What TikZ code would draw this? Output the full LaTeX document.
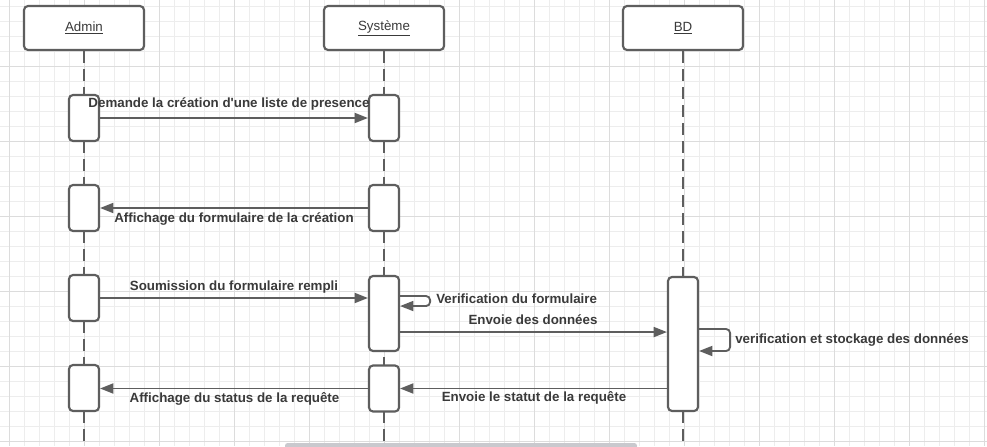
\documentclass[tikz,border=0pt]{standalone}
\usepackage{fontspec}
\setmainfont{Liberation Sans}
\usetikzlibrary{arrows.meta,calc,positioning}
\definecolor{linegray}{HTML}{5E5E5E}
\definecolor{textgray}{HTML}{3A3A3A}
\definecolor{gridminor}{HTML}{EDEDED}
\definecolor{gridmajor}{HTML}{DCDCDC}
\definecolor{scrollgray}{HTML}{C9C9CE}
\tikzset{
  headbox/.style={rectangle, rounded corners=3pt, draw=linegray, line width=1.6pt,
    fill=white, minimum width=90pt, minimum height=33pt, text=textgray,
    font=\fontsize{10}{12}\selectfont},
  actbox/.style={rectangle, rounded corners=3pt, draw=linegray, line width=1.6pt,
    fill=white, minimum width=22.5pt, minimum height=34.5pt, inner sep=0pt},
  lifeline/.style={draw=linegray, line width=1.3pt, dash pattern=on 9pt off 4.5pt},
  msg/.style={draw=linegray, line width=1.4pt, -{Triangle[length=10pt,width=7.5pt]}},
  lbl/.style={font=\bfseries\fontsize{10}{12}\selectfont, text=textgray,
    inner sep=0pt, anchor=base}
}

\begin{document}
\begin{tikzpicture}[x=0.75pt,y=-0.75pt]
    \useasboundingbox (0,0) rectangle (987,446);
    \fill[white] (0,0) rectangle (987,446);

    \pgfmathsetmacro{\xAdmin}{84}
    \pgfmathsetmacro{\xSys}{384}
    \pgfmathsetmacro{\xBD}{683}

    % Grid
    \foreach \gx in {9,24,...,984}
        \draw[gridminor, line width=0.75pt] (\gx,0) -- (\gx,446);
    \foreach \gy in {6,21,...,441}
        \draw[gridminor, line width=0.75pt] (0,\gy) -- (987,\gy);
    \foreach \gx in {9,84,...,984}
        \draw[gridmajor, line width=0.75pt] (\gx,0) -- (\gx,446);
    \foreach \gy in {66,141,...,441}
        \draw[gridmajor, line width=0.75pt] (0,\gy) -- (987,\gy);

    % Heads
    \node[headbox] (admin) at (\xAdmin,28) {\underline{Admin}};
    \node[headbox] (sys) at (\xSys,28) {\underline{Système}};
    \node[headbox] (bd) at (\xBD,28) {\underline{BD}};

    % Lifelines
    \coordinate (adminEnd) at (\xAdmin,446);
    \coordinate (sysEnd) at (\xSys,446);
    \coordinate (bdEnd) at (\xBD,446);
    \draw[lifeline] (admin.south) -- (adminEnd);
    \draw[lifeline] (sys.south) -- (sysEnd);
    \draw[lifeline] (bd.south) -- (bdEnd);

    % Activation boxes
    \node[actbox] (adm1) at (\xAdmin,118) {};
    \node[actbox] (adm2) at (\xAdmin,208) {};
    \node[actbox] (adm3) at (\xAdmin,298) {};
    \node[actbox] (adm4) at (\xAdmin,388) {};
    \node[actbox] (sys1) at (\xSys,118) {};
    \node[actbox] (sys2) at (\xSys,208) {};
    \node[actbox, minimum height=56.25pt] (sys3) at (\xSys,313.5) {};
    \node[actbox] (sys4) at (\xSys,388.5) {};
    \node[actbox, minimum height=100.5pt] (bd1) at (\xBD,344) {};

    % Messages
    \draw[msg] (adm1.east) -- (sys1.west);
    \node[lbl] (lblDemande) at (229,107) {Demande la création d\textquotesingle une liste de presence};
    \draw[msg] (sys2.west) -- (adm2.east);
    \node[lbl] (lblForm) at (234,222) {Affichage du formulaire de la création};
    \draw[msg] (adm3.east) -- (adm3.east -| sys3.west);
    \node[lbl] (lblSoumis) at (234,290) {Soumission du formulaire rempli};
    \draw[msg, rounded corners=3pt] ([yshift=13.1pt]sys3.east) -- ++(30,0) -- ++(0,10)
        -- ([yshift=5.6pt]sys3.east);
    \node[lbl, anchor=base west] (lblVerif) at (436,303.5) {Verification du formulaire};
    \draw[msg] ([yshift=-13.9pt]sys3.east) -- ([yshift=-13.9pt]sys3.east -| bd1.west);
    \node[lbl] (lblEnvoi) at (533,324.5) {Envoie des données};
    \draw[msg, rounded corners=3pt] ([yshift=11.25pt]bd1.east) -- ++(31,0) -- ++(0,22)
        -- ([yshift=-5.25pt]bd1.east);
    \node[lbl, anchor=base west] (lblStock) at (735,343) {verification et stockage des données};
    \draw[msg] (bd1.west |- sys4.east) -- (sys4.east);
    \node[lbl] (lblStatut) at (534,401) {Envoie le statut de la requête};
    \draw[msg] (sys4.west) -- (sys4.west -| adm4.east);
    \node[lbl] (lblStatus) at (234.5,402) {Affichage du status de la requête};

    % Scroll bar
    \fill[scrollgray, rounded corners=2pt] (285,443) rectangle (637,449);
\end{tikzpicture}
\end{document}
